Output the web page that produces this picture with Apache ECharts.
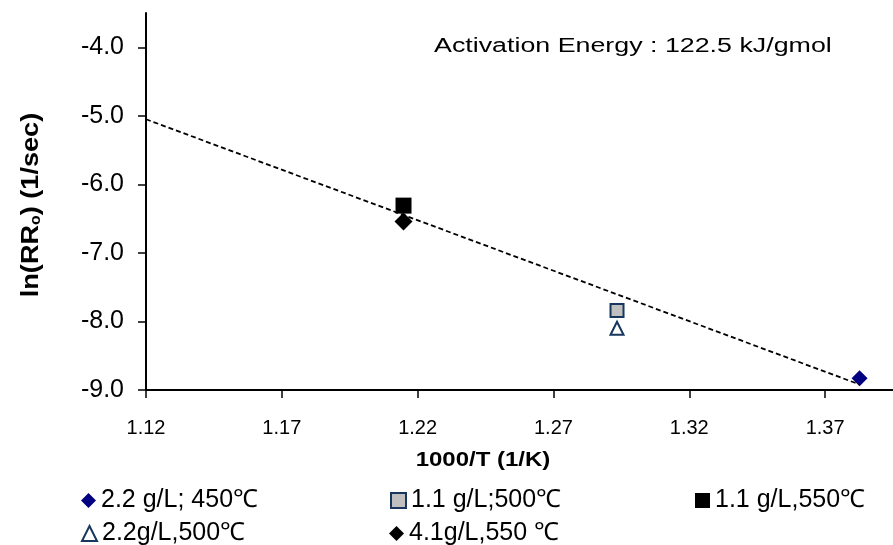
<!DOCTYPE html>
<html>
<head>
<meta charset="utf-8">
<script src="https://cdn.jsdelivr.net/npm/echarts@6/dist/echarts.min.js"></script>
<style>
  html, body { margin: 0; padding: 0; background: #fff; }
  #chart { width: 893px; height: 545px; }
</style>
</head>
<body>
<div id="chart"></div>
<script>
// Arrhenius plot: ln of initial reaction rate versus inverse temperature
var FONT = "'Liberation Sans', Arial, Helvetica, sans-serif";

var seriesNames = ['2.2 g/L; 450\u2103', '1.1 g/L;500\u2103', '1.1 g/L,550\u2103', '2.2g/L,500\u2103', '4.1g/L,550 \u2103'];

// [1000/T (1/K), ln(RRo) (1/sec)]
var pts450_22 = [[1.3827, -8.83]];
var pts500_11 = [[1.2934, -7.84]];
var pts550_11 = [[1.2148, -6.31]];
var pts500_22 = [[1.2934, -8.10]];
var pts550_41 = [[1.2148, -6.54]];

// linear fit line (slope = -Ea/R), extended back to the axis start
var fitLine = [[1.12, -5.05], [1.3827, -8.92]];

var xTicks = [1.12, 1.17, 1.22, 1.27, 1.32, 1.37];
var yTicks = [-9.0, -8.0, -7.0, -6.0, -5.0, -4.0];

var annotation = 'Activation Energy : 122.5 kJ/gmol';
var xTitle = '1000/T (1/K)';

var chart = echarts.init(document.getElementById('chart'), null, { renderer: 'canvas' });

function legendItem(name, left, top) {
  return {
    data: [name],
    left: left,
    top: top,
    padding: 0,
    itemWidth: 15,
    itemHeight: 15,
    itemGap: 0,
    selectedMode: false,
    textStyle: { fontFamily: FONT, fontSize: 25, color: '#000', padding: [0, 0, 0, 0] }
  };
}

var option = {
  backgroundColor: '#fff',
  animation: false,
  grid: { left: 146, right: 0, top: 13, bottom: 155, containLabel: false },
  xAxis: {
    type: 'value',
    min: 1.12,
    max: 1.395,
    splitLine: { show: false },
    axisLine: { onZero: false, lineStyle: { color: '#000', width: 2 } },
    axisTick: { show: true, length: 8, inside: false, customValues: xTicks, lineStyle: { color: '#000', width: 1.5 } },
    axisLabel: {
      customValues: xTicks,
      margin: 28,
      fontFamily: FONT,
      fontSize: 20,
      color: '#000',
      formatter: function (v) { return v.toFixed(2); }
    }
  },
  yAxis: {
    type: 'value',
    min: -9,
    max: -3.5,
    splitLine: { show: false },
    axisLine: { onZero: false, lineStyle: { color: '#000', width: 2 } },
    axisTick: { show: true, length: 8, inside: false, customValues: yTicks, lineStyle: { color: '#000', width: 1.5 } },
    axisLabel: {
      customValues: yTicks,
      margin: 22,
      fontFamily: FONT,
      fontSize: 25,
      color: '#000',
      formatter: function (v) { return v.toFixed(1); }
    }
  },
  legend: [
    legendItem(seriesNames[0], 81, 488),
    legendItem(seriesNames[1], 390, 488),
    legendItem(seriesNames[2], 695, 488),
    legendItem(seriesNames[3], 81, 521),
    legendItem(seriesNames[4], 389, 521)
  ],
  graphic: [
    {
      type: 'text',
      x: 434, y: 46,
      scaleX: 1.34,
      style: { text: annotation, font: '20px ' + FONT, fill: '#000', align: 'left', verticalAlign: 'middle' }
    },
    {
      type: 'text',
      x: 483, y: 460,
      scaleX: 1.2,
      style: { text: xTitle, font: 'bold 20px ' + FONT, fill: '#000', align: 'center', verticalAlign: 'middle' }
    },
    {
      type: 'text',
      x: 31, y: 205,
      rotation: Math.PI / 2,
      scaleX: 1.13,
      style: {
        text: '{a|ln(RR}{b|o}{a|) (1/sec)}',
        align: 'center',
        verticalAlign: 'middle',
        fill: '#000',
        rich: {
          a: { font: 'bold 24px ' + FONT, fill: '#000' },
          b: { font: 'bold 14px ' + FONT, fill: '#000', verticalAlign: 'bottom' }
        }
      }
    }
  ],
  series: [
    {
      name: seriesNames[0], type: 'scatter', data: pts450_22,
      symbol: 'diamond', symbolSize: 16,
      itemStyle: { color: '#000080', opacity: 1 }
    },
    {
      name: seriesNames[1], type: 'scatter', data: pts500_11,
      symbol: 'rect', symbolSize: 13,
      itemStyle: { color: '#c0c0c0', borderColor: '#17375e', borderWidth: 2, opacity: 1 }
    },
    {
      name: seriesNames[2], type: 'scatter', data: pts550_11,
      symbol: 'rect', symbolSize: 16,
      itemStyle: { color: '#000', opacity: 1 }
    },
    {
      name: seriesNames[3], type: 'scatter', data: pts500_22,
      symbol: 'triangle', symbolSize: 13,
      itemStyle: { color: '#fff', borderColor: '#17375e', borderWidth: 2, opacity: 1 }
    },
    {
      name: seriesNames[4], type: 'scatter', data: pts550_41,
      symbol: 'diamond', symbolSize: 18,
      itemStyle: { color: '#000', opacity: 1 }
    },
    {
      name: 'fit', type: 'line', data: fitLine,
      symbol: 'none', z: 5,
      lineStyle: { color: '#000', width: 1.8, type: [5, 3] },
      silent: true
    }
  ]
};

chart.setOption(option);
</script>
</body>
</html>
